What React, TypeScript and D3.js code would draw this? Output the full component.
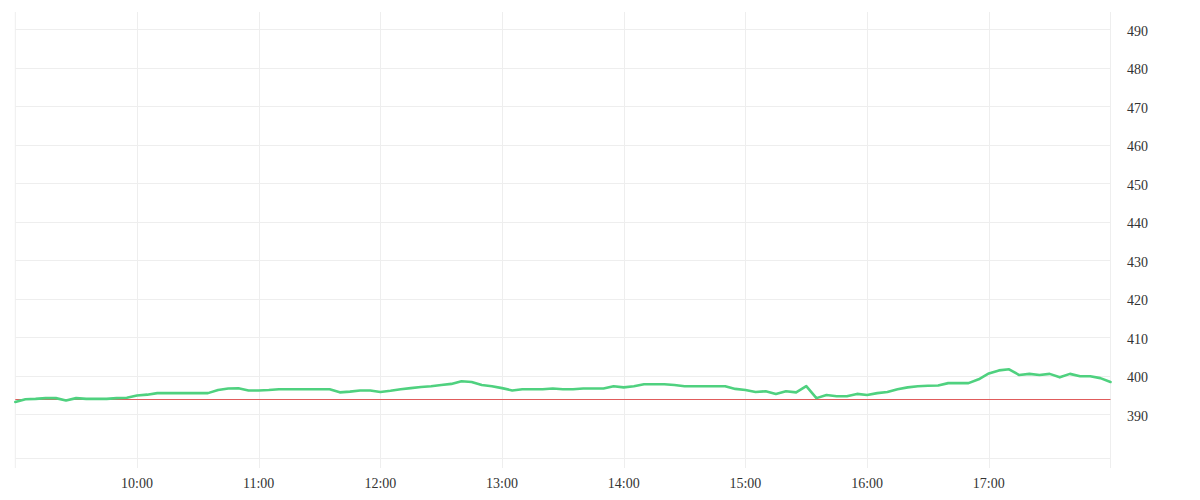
import React from "react";
import * as d3 from "d3";

const startTime = new Date(2024, 0, 2, 9, 0);
const endTime = new Date(2024, 0, 2, 18, 0);
const stepMinutes = 5;

const values: number[] = [
  393.2, 393.9, 394.0, 394.2, 394.2, 393.6, 394.2, 394.0, 394.0, 394.0,
  394.2, 394.3, 394.9, 395.1, 395.5, 395.5, 395.5, 395.5, 395.5, 395.5,
  396.3, 396.7, 396.75, 396.2, 396.2, 396.3, 396.5, 396.5, 396.5, 396.5,
  396.5, 396.5, 395.7, 395.9, 396.2, 396.2, 395.8, 396.1, 396.5, 396.8,
  397.1, 397.3, 397.6, 397.9, 398.6, 398.4, 397.6, 397.3, 396.8, 396.2,
  396.5, 396.5, 396.5, 396.7, 396.5, 396.5, 396.7, 396.7, 396.7, 397.3,
  397.0, 397.3, 397.8, 397.8, 397.8, 397.6, 397.3, 397.3, 397.3, 397.3,
  397.3, 396.6, 396.3, 395.8, 396.0, 395.3, 396.0, 395.7, 397.3, 394.2,
  395.0, 394.7, 394.7, 395.3, 395.0, 395.5, 395.8, 396.5, 397.0, 397.3,
  397.4, 397.5, 398.1, 398.1, 398.1, 399.1, 400.6, 401.4, 401.7, 400.2,
  400.5, 400.2, 400.5, 399.6, 400.5, 399.9, 399.9, 399.4, 398.4,
];

const baselineValue = 393.9;
const yTicks = [390, 400, 410, 420, 430, 440, 450, 460, 470, 480, 490];
const xTickLabels = ["10:00", "11:00", "12:00", "13:00", "14:00", "15:00", "16:00", "17:00"];

export default function App() {
  const W = 1200;
  const H = 500;
  const left = 15.3;
  const right = 1110.5;
  const top = 12;
  const bottom = 468;
  const paneBottom = 458.5;

  const data = values.map((v, i) => ({
    t: new Date(startTime.getTime() + i * stepMinutes * 60000),
    v,
  }));

  const x = d3.scaleTime().domain([startTime, endTime]).range([left, right]);
  const y = d3.scaleLinear().domain([390, 490]).range([414.3, 29.3]);

  const line = d3
    .line<{ t: Date; v: number }>()
    .x((d) => x(d.t))
    .y((d) => y(d.v));

  const xTicks = xTickLabels.map((lab) => {
    const [h, m] = lab.split(":").map(Number);
    return { lab, t: new Date(2024, 0, 2, h, m) };
  });

  const grid = "#eeeeee";
  const textColor = "#333333";
  const baseY = Math.round(y(baselineValue)) + 0.5;

  return (
    <svg
      width={W}
      height={H}
      style={{ position: "absolute", left: 0, top: 0, background: "#ffffff" }}
      fontFamily="'Liberation Serif', 'Times New Roman', serif"
    >
      <rect x={0} y={0} width={W} height={H} fill="#ffffff" />
      <line x1={left} x2={left} y1={top} y2={bottom} stroke={grid} strokeWidth={1} />
      {xTicks.map((d) => (
        <line
          key={d.lab}
          x1={Math.round(x(d.t)) + 0.5}
          x2={Math.round(x(d.t)) + 0.5}
          y1={top}
          y2={bottom}
          stroke={grid}
          strokeWidth={1}
        />
      ))}
      {yTicks.map((v) => (
        <line
          key={v}
          x1={left}
          x2={right}
          y1={Math.round(y(v)) + 0.5}
          y2={Math.round(y(v)) + 0.5}
          stroke={grid}
          strokeWidth={1}
        />
      ))}
      <line x1={left} x2={right} y1={paneBottom} y2={paneBottom} stroke={grid} strokeWidth={1} />
      <line x1={right} x2={right} y1={top} y2={bottom} stroke={grid} strokeWidth={1} />
      <line
        x1={left}
        x2={right}
        y1={baseY}
        y2={baseY}
        stroke="#e05c5c"
        strokeWidth={1}
      />
      <path
        d={line(data) || ""}
        fill="none"
        stroke="#4fd17f"
        strokeWidth={2.6}
        strokeLinejoin="round"
        strokeLinecap="round"
      />
      {yTicks.map((v) => (
        <text
          key={v}
          x={1127}
          y={y(v) + 1.5}
          dy="0.35em"
          fontSize={14}
          fill={textColor}
        >
          {v}
        </text>
      ))}
      {xTicks.map((d) => (
        <text
          key={d.lab}
          x={x(d.t)}
          y={483}
          dy="0.35em"
          textAnchor="middle"
          fontSize={14}
          fill={textColor}
        >
          {d.lab}
        </text>
      ))}
    </svg>
  );
}
